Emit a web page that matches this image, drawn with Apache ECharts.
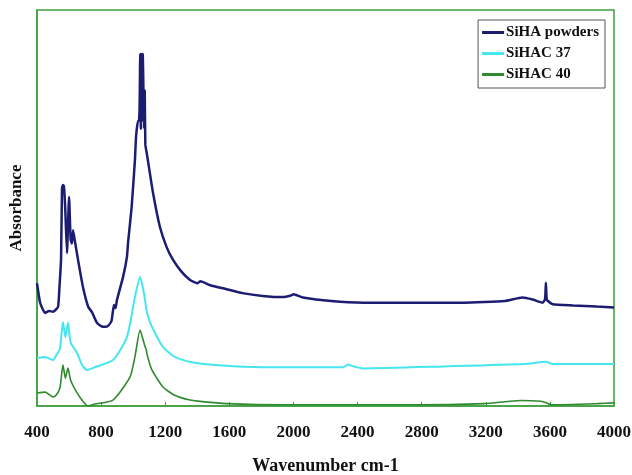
<!DOCTYPE html>
<html><head><meta charset="utf-8">
<script src="https://cdn.jsdelivr.net/npm/echarts@6/dist/echarts.min.js"></script>
<style>html,body{margin:0;padding:0;background:#fff}#c{width:632px;height:475px}</style>
</head><body><div id="c"></div>
<script>
const xTicks = [400, 800, 1200, 1600, 2000, 2400, 2800, 3200, 3600, 4000];
const seriesNames = ['SiHA powders', 'SiHAC 37', 'SiHAC 40'];

const siha_x = [400,420,450,475,500,531,540,550,556,562,568,576,587,600,610,618,625,635,656,687,720,743,774,800,824,845,865,880,890,899,937,961,968,990,1011,1018,1030,1036,1040,1044,1048,1052,1056,1060,1064,1068,1072,1076,1084,1092,1124,1167,1210,1249,1300,1355,1400,1420,1481,1582,1682,1808,1933,1984,2000,2059,2235,2436,2688,3065,3316,3429,3492,3555,3570,3575,3580,3588,3618,3744,3894,4000];
const siha_y = [31,26,23.5,24,23.8,25,30,36.9,55,55.8,55.5,50,38.6,52.8,42,41,44.4,42,36.9,30,25,23.7,21,20.2,20,20.3,21.5,25.5,24.7,26.8,32.6,37.6,41.2,50,62.1,68,72,72,75,88.9,70,88.9,72,88.9,80,70,79.7,66,64,62,53.8,45.2,40,36.9,34,31.8,31,31.5,30.5,29.5,28.5,27.8,27.5,27.9,28.2,27.4,26.5,26.1,26.1,26.1,26.5,27.4,26.9,26.1,27,31.1,27,26.5,25.7,25.4,25.1,24.9];

const c37_x = [400,450,500,520,543,562,577,593,610,650,680,712,760,874,961,1011,1043,1060,1074,1080,1090,1117,1186,1255,1355,1557,1808,2311,2340,2373,2436,2939,3442,3573,3618,4000];
const c37_y = [12.1,12.4,11.6,12.8,14.5,21.2,17.4,21,16,13.4,10.5,9.1,9.8,11.6,17.4,27.5,32.6,30,26.8,25,23,20,14.9,12.5,11.1,10.2,9.8,9.8,10.5,10,9.5,10,10.6,11.2,10.6,10.6];

const c40_x = [400,450,500,520,543,562,577,593,610,650,690,718,760,874,980,1011,1043,1060,1074,1080,1090,1117,1186,1255,1355,1431,1582,1933,2688,3191,3417,3543,3578,3605,3894,4000];
const c40_y = [3.3,3.5,2.3,2.8,4.5,10.4,7,9.6,6.5,3.3,1,0,0.5,1.5,7.3,12.4,19.2,17,15,14.5,12.5,9.1,4.8,2.8,1.5,1.1,0.6,0.3,0.3,0.6,1.4,1.2,0.8,0.3,0.6,0.8];

const colors = ['#1c1c72', '#45e6f0', '#2f8a2f'];
const green = '#3f9f3f';
const serif = '"Liberation Serif", "Times New Roman", serif';

function zip(xs, ys) { return xs.map((x, i) => [x, ys[i]]); }

const chart = echarts.init(document.getElementById('c'), null, {renderer: 'canvas'});
chart.setOption({
  animation: false,
  backgroundColor: '#fff',
  grid: {left: 37, right: 18, top: 10, bottom: 69, containLabel: false, outerBoundsMode: 'none',
         show: true, borderColor: green, borderWidth: 1.5, backgroundColor: 'transparent'},
  legend: {
    orient: 'vertical', right: 27, top: 20,
    data: seriesNames,
    backgroundColor: '#fff', borderColor: '#555', borderWidth: 1,
    padding: [5, 6, 6, 4], itemGap: 6,
    itemWidth: 22, itemHeight: 3, icon: 'rect',
    textStyle: {fontFamily: serif, fontWeight: 'bold', fontSize: 15, color: '#111', padding: [0, 0, 0, -3]}
  },
  xAxis: {
    type: 'value', min: 400, max: 4000, interval: 400,
    name: 'Wavenumber cm-1', nameLocation: 'middle', nameGap: 51,
    nameTextStyle: {fontFamily: serif, fontWeight: 'bold', fontSize: 18, color: '#111'},
    axisLine: {lineStyle: {color: green, width: 1.5}},
    axisTick: {inside: true, length: 4, lineStyle: {color: green}},
    axisLabel: {margin: 18, fontFamily: serif, fontWeight: 'bold', fontSize: 17, color: '#111',
      formatter: v => xTicks.includes(v) ? String(v) : ''},
    splitLine: {show: false}
  },
  yAxis: {
    type: 'value', min: 0, max: 100,
    name: 'Absorbance', nameLocation: 'middle', nameGap: 12,
    nameTextStyle: {fontFamily: serif, fontWeight: 'bold', fontSize: 17, color: '#111'},
    axisLine: {show: true, lineStyle: {color: green, width: 1.5}},
    axisTick: {show: false}, axisLabel: {show: false}, splitLine: {show: false}
  },
  series: [
    {name: seriesNames[0], type: 'line', data: zip(siha_x, siha_y), showSymbol: false, smooth: 0.15,
     lineStyle: {color: colors[0], width: 2.5}, itemStyle: {color: colors[0]}},
    {name: seriesNames[1], type: 'line', data: zip(c37_x, c37_y), showSymbol: false, smooth: 0.2,
     lineStyle: {color: colors[1], width: 2}, itemStyle: {color: colors[1]}},
    {name: seriesNames[2], type: 'line', data: zip(c40_x, c40_y), showSymbol: false, smooth: 0.2,
     lineStyle: {color: colors[2], width: 1.6}, itemStyle: {color: colors[2]}}
  ]
});
</script></body></html>
